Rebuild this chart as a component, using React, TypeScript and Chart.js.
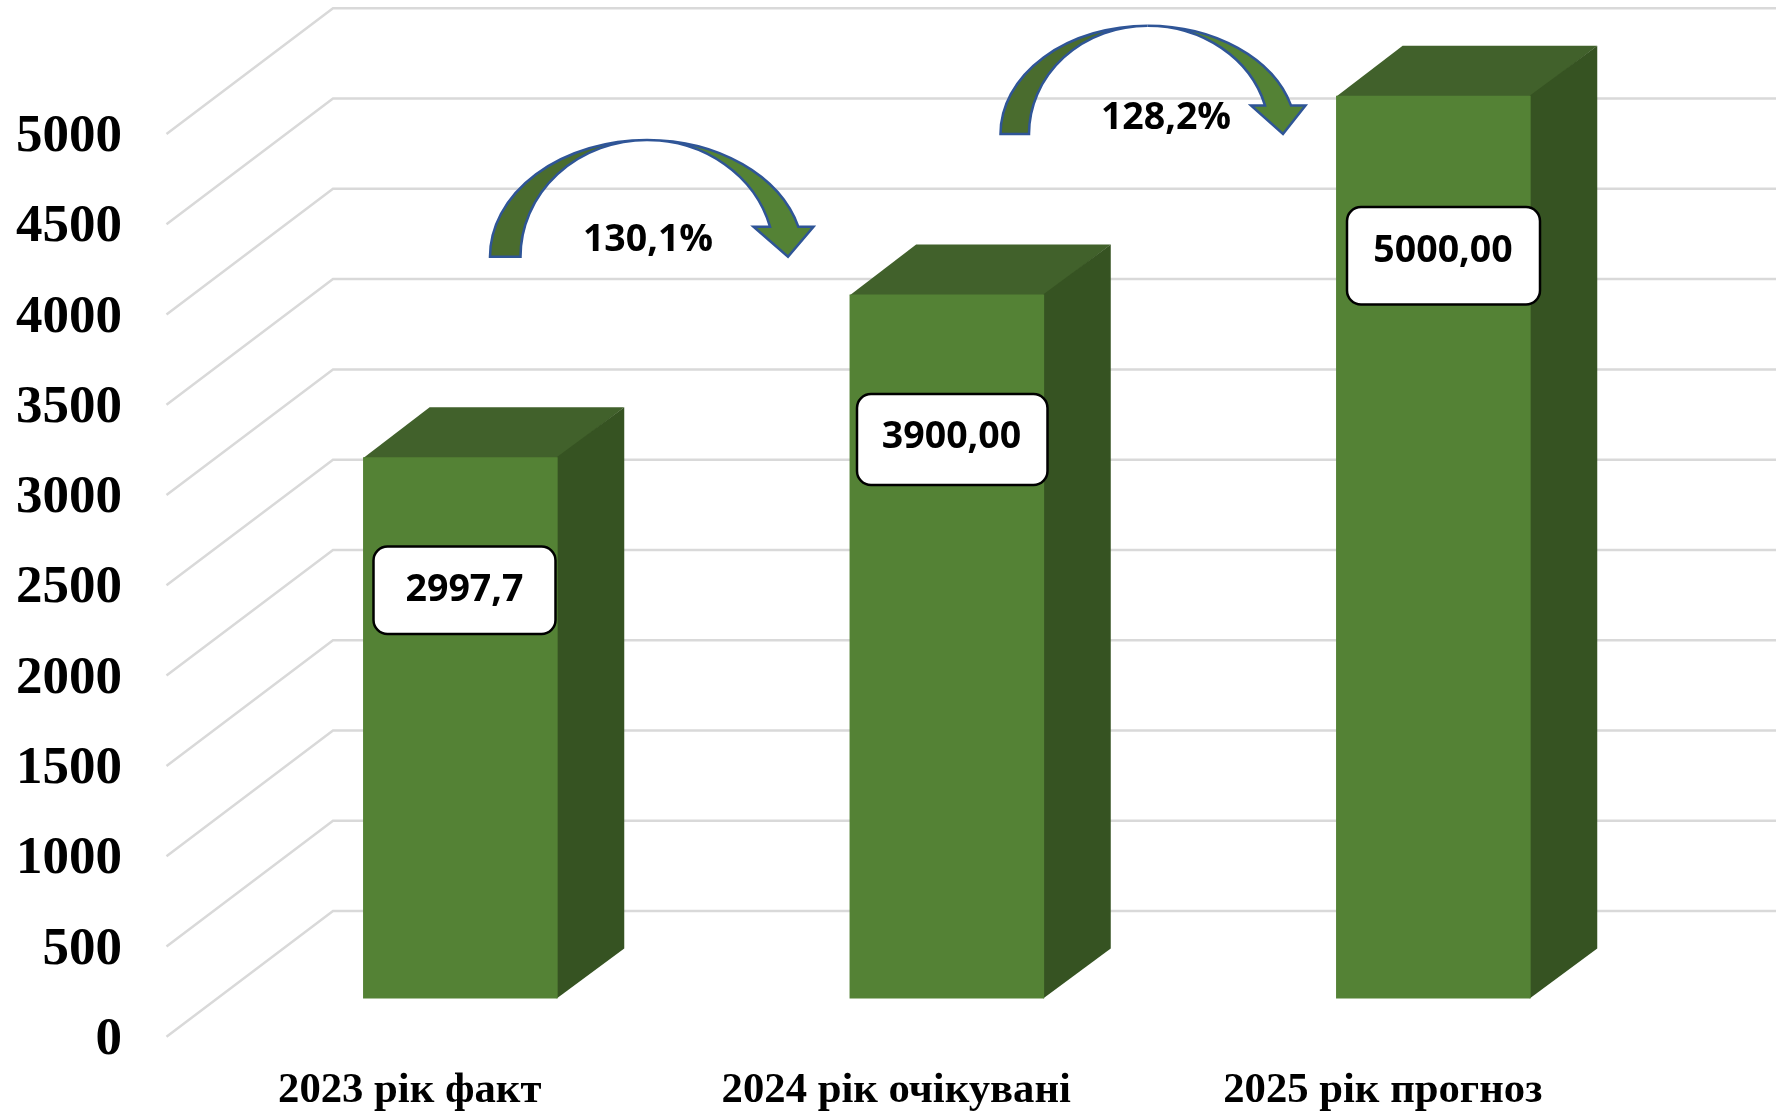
import React, { useEffect, useRef } from "react";
import { Chart, registerables } from "chart.js";

Chart.register(...registerables);

const categories = ["2023 рік факт", "2024 рік очікувані", "2025 рік прогноз"];
const values = [2997.7, 3900, 5000];
const valueLabels = ["2997,7", "3900,00", "5000,00"];
const yTickStep = 500;
const yMax = 5000;

// Annotation layout (pixels), independent of the data
const labelBoxes = [
  { l: 373.5, t: 546.5, r: 555.5, b: 634, tx: 464.5, ty: 590 },
  { l: 857, t: 394, r: 1047.5, b: 485, tx: 951.5, ty: 437 },
  { l: 1347, t: 207, r: 1540, b: 304.5, tx: 1443, ty: 251.5 },
];
const arrows = [
  { text: "130,1%", tx: 648, ty: 240, left: 490, leftIn: 520.5, apexX: 647, apexY: 140, bottom: 256.7, tip: 788, headL: 753.5, headR: 813.5, headY: 226.7, shaftIn: 770, shaftOut: 798.3 },
  { text: "128,2%", tx: 1166, ty: 118, left: 1000.5, leftIn: 1029, apexX: 1147.5, apexY: 25.7, bottom: 134, tip: 1283, headL: 1251, headR: 1305.5, headY: 105.4, shaftIn: 1265, shaftOut: 1291 },
];

const FRONT = "#548235";
const TOP = "#41612b";
const SIDE = "#365322";
const ARROW_DARK = "#4a6c2e";
const ARROW_STROKE = "#2f5597";
const GRID = "#d9d9d9";

const WALL = { dx: 166.5, dy: 125.7 };
const BAR_FRONT = { dx: 50.6, dy: 38.2 };
const BAR_DEPTH = { dx: 66.6, dy: 50 };
const Y_LABEL_SHIFT = 3.4;

const SERIF = "'Liberation Serif', serif";
const SANS = "'Open Sans', sans-serif";

function fillPoly(ctx: CanvasRenderingContext2D, pts: number[][], color: string) {
  ctx.fillStyle = color;
  ctx.beginPath();
  pts.forEach(([x, y], i) => (i ? ctx.lineTo(x, y) : ctx.moveTo(x, y)));
  ctx.closePath();
  ctx.fill();
}

function drawArrow(ctx: CanvasRenderingContext2D, a: (typeof arrows)[number]) {
  const { apexX: cx, bottom: cy, apexY } = a;
  const ry = cy - apexY;
  const endT = Math.asin((cy - a.headY) / ry);
  const cosE = Math.cos(endT);
  const rxOutR = (a.shaftOut - cx) / cosE;
  const rxInR = (a.shaftIn - cx) / cosE;
  ctx.save();
  ctx.lineJoin = "miter";
  ctx.lineWidth = 2.5;
  ctx.strokeStyle = ARROW_STROKE;
  // left (rising, shaded) half
  ctx.beginPath();
  ctx.moveTo(a.left, cy);
  ctx.ellipse(cx, cy, cx - a.left, ry, 0, Math.PI, Math.PI * 1.5);
  ctx.ellipse(cx, cy, cx - a.leftIn, ry, 0, Math.PI * 1.5, Math.PI, true);
  ctx.closePath();
  ctx.fillStyle = ARROW_DARK;
  ctx.fill();
  ctx.stroke();
  // right half with head
  ctx.beginPath();
  ctx.moveTo(cx, apexY);
  ctx.ellipse(cx, cy, rxOutR, ry, 0, Math.PI * 1.5, Math.PI * 2 - endT);
  ctx.lineTo(a.headR, a.headY);
  ctx.lineTo(a.tip, cy);
  ctx.lineTo(a.headL, a.headY);
  ctx.lineTo(a.shaftIn, a.headY);
  ctx.ellipse(cx, cy, rxInR, ry, 0, Math.PI * 2 - endT, Math.PI * 1.5, true);
  ctx.closePath();
  ctx.fillStyle = FRONT;
  ctx.fill();
  ctx.stroke();
  ctx.restore();
  ctx.fillStyle = "#000";
  ctx.font = `bold 37.5px ${SANS}`;
  ctx.textAlign = "center";
  ctx.textBaseline = "middle";
  ctx.fillText(a.text, a.tx, a.ty);
}

const wallGrid = {
  id: "wallGrid",
  beforeDraw(chart: any) {
    // y tick labels sit slightly lower than the font's geometric middle
    const s = chart.scales.y;
    if (!s.__shifted) {
      s.__shifted = true;
      const orig = s.drawLabels.bind(s);
      s.drawLabels = (area: any) => {
        s.ctx.save();
        s.ctx.translate(0, Y_LABEL_SHIFT);
        orig(area);
        s.ctx.restore();
      };
    }
  },
  beforeDatasetsDraw(chart: any) {
    const { ctx, scales, chartArea, width } = chart;
    ctx.save();
    ctx.strokeStyle = GRID;
    ctx.lineWidth = 2.5;
    scales.y.ticks.forEach((t: any) => {
      const y = scales.y.getPixelForValue(t.value);
      ctx.beginPath();
      ctx.moveTo(chartArea.left, y);
      ctx.lineTo(chartArea.left + WALL.dx, y - WALL.dy);
      ctx.lineTo(width, y - WALL.dy);
      ctx.stroke();
    });
    ctx.restore();
  },
};

const bar3d = {
  id: "bar3d",
  beforeDatasetDraw(chart: any) {
    const { ctx } = chart;
    const meta = chart.getDatasetMeta(0);
    ctx.save();
    ctx.translate(BAR_FRONT.dx, -BAR_FRONT.dy);
    meta.data.forEach((el: any) => {
      const l = el.x - el.width / 2;
      const r = el.x + el.width / 2;
      const { y, base } = el;
      const { dx, dy } = BAR_DEPTH;
      fillPoly(ctx, [[l, y + 1], [r, y + 1], [r + dx, y - dy], [l + dx, y - dy]], TOP);
      fillPoly(ctx, [[r - 1, y], [r + dx, y - dy], [r + dx, base - dy], [r - 1, base]], SIDE);
    });
  },
  afterDatasetDraw(chart: any) {
    chart.ctx.restore();
  },
  afterDatasetsDraw(chart: any) {
    const { ctx } = chart;
    ctx.save();
    arrows.forEach((a) => drawArrow(ctx, a));
    labelBoxes.forEach((b, i) => {
      ctx.beginPath();
      ctx.roundRect(b.l, b.t, b.r - b.l, b.b - b.t, 14);
      ctx.fillStyle = "#fff";
      ctx.fill();
      ctx.lineWidth = 2.5;
      ctx.strokeStyle = "#000";
      ctx.stroke();
      ctx.fillStyle = "#000";
      ctx.font = `bold 37.5px ${SANS}`;
      ctx.textAlign = "center";
      ctx.textBaseline = "middle";
      ctx.fillText(valueLabels[i], b.tx, b.ty);
    });
    ctx.restore();
  },
};

export default function App() {
  const ref = useRef<HTMLCanvasElement>(null);
  useEffect(() => {
    document.body.style.margin = "0";
    const chart = new Chart(ref.current!, {
      type: "bar",
      data: {
        labels: categories,
        datasets: [
          {
            data: values,
            backgroundColor: FRONT,
            borderWidth: 0,
            categoryPercentage: 1,
            barPercentage: 0.4,
            clip: false,
          } as any,
        ],
      },
      options: {
        responsive: false,
        animation: false,
        events: [],
        layout: { padding: { top: 134, right: 150, left: 0, bottom: 0 } },
        plugins: { legend: { display: false }, tooltip: { enabled: false }, title: { display: false } },
        scales: {
          x: {
            afterFit: (s: any) => {
              s.height = 75.5;
            },
            grid: { display: false, drawTicks: false },
            border: { display: false },
            ticks: {
              autoSkip: false,
              maxRotation: 0,
              minRotation: 0,
              padding: 29,
              color: "#000",
              font: { family: SERIF, weight: "bold", size: 42.7 },
            },
          },
          y: {
            min: 0,
            max: yMax,
            afterFit: (s: any) => {
              s.width = 166.5;
            },
            grid: { display: false, drawTicks: false },
            border: { display: false },
            ticks: {
              stepSize: yTickStep,
              padding: 44.5,
              color: "#000",
              font: { family: SERIF, weight: "bold", size: 53 },
              callback: (v: any) => String(v),
            },
          },
        },
      },
      plugins: [wallGrid, bar3d],
    } as any);
    return () => chart.destroy();
  }, []);
  return <canvas ref={ref} width={1776} height={1113} style={{ display: "block" }} />;
}
